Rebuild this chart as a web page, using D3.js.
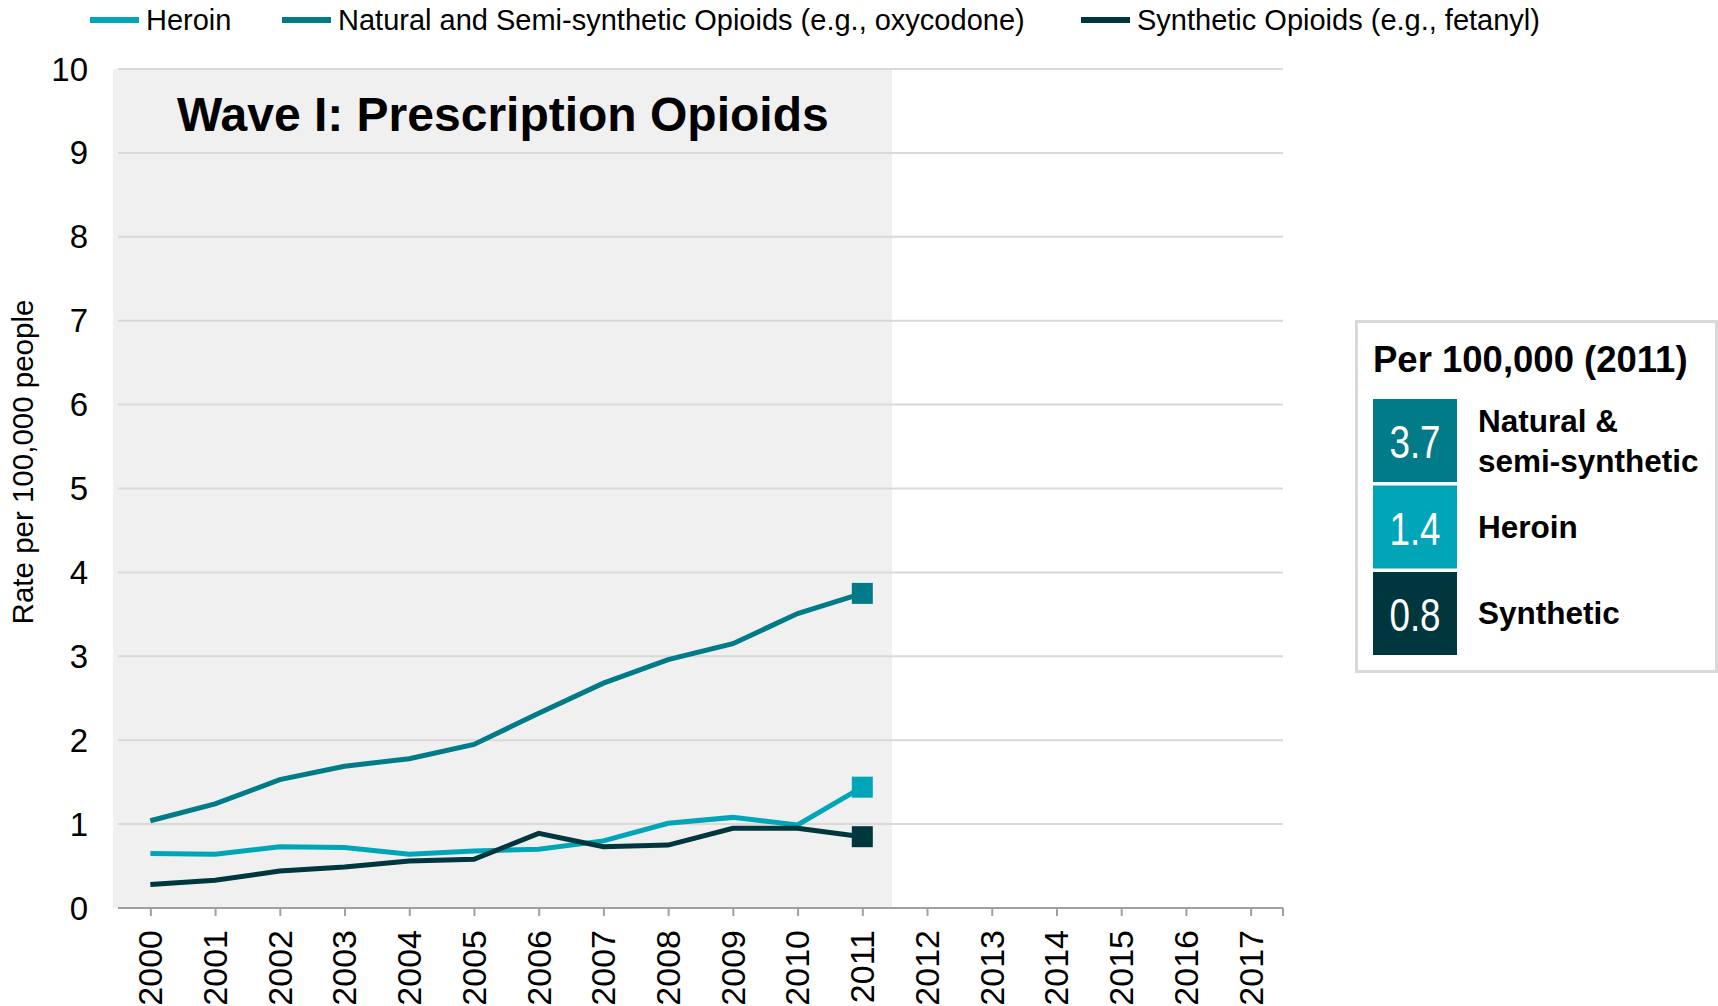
<!DOCTYPE html>
<html>
<head>
<meta charset="utf-8">
<script src="https://cdn.jsdelivr.net/npm/d3@7"></script>
<style>
  body { margin: 0; background: #fff; }
  svg { display: block; font-family: "Liberation Sans", Arial, sans-serif; }
  .grid line { stroke: #d9d9d9; stroke-width: 2; }
  .line { fill: none; stroke-width: 5; }
</style>
</head>
<body>
<svg class="chart" width="1718" height="1006"></svg>
<script>
// years on the axis and years with data
let years = d3.range(2000, 2018);
let dataYears = d3.range(2000, 2012);

let heroin    = [0.65, 0.64, 0.73, 0.72, 0.64, 0.68, 0.70, 0.80, 1.01, 1.08, 0.99, 1.44];
let natural   = [1.04, 1.24, 1.53, 1.69, 1.78, 1.95, 2.32, 2.68, 2.96, 3.15, 3.51, 3.75];
let synthetic = [0.28, 0.33, 0.44, 0.49, 0.56, 0.58, 0.89, 0.73, 0.75, 0.95, 0.95, 0.85];

let yTicks = d3.range(0, 11);

let seriesNames = ["Heroin", "Natural and Semi-synthetic Opioids (e.g., oxycodone)", "Synthetic Opioids (e.g., fetanyl)"];
let colors = ["#00a6b8", "#007b87", "#00363d"];

// summary box (2011)
let boxValues = ["3.7", "1.4", "0.8"];
let boxLabels = [["Natural &", "semi-synthetic"], ["Heroin"], ["Synthetic"]];
let boxColors = ["#007b87", "#00a6b8", "#00363d"];

let series = [
  {name: seriesNames[0], values: heroin, color: colors[0]},
  {name: seriesNames[1], values: natural, color: colors[1]},
  {name: seriesNames[2], values: synthetic, color: colors[2]}
];

let svg = d3.select(".chart");

let plot = {left: 118, right: 1283, top: 69, bottom: 908};

let xScale = d3.scalePoint()
    .domain(years)
    .range([plot.left, plot.right])
    .padding(0.5);
let yScale = d3.scaleLinear()
    .domain([0, 10])
    .range([plot.bottom, plot.top]);

// Wave I shading
let shadeEnd = xScale(2011) + xScale.step() * 0.46;
svg.append("rect")
    .attr("x", plot.left - 5)
    .attr("y", yScale(10))
    .attr("width", shadeEnd - plot.left + 5)
    .attr("height", yScale(0) - yScale(10))
    .attr("fill", "#f0f0f0");

svg.append("g")
    .attr("class", "grid")
  .selectAll("line")
    .data(yTicks.filter(d => d > 0))
  .enter().append("line")
    .attr("x1", plot.left)
    .attr("x2", plot.right)
    .attr("y1", d => yScale(d))
    .attr("y2", d => yScale(d));

// y labels
svg.append("g")
  .selectAll("text")
    .data(yTicks)
  .enter().append("text")
    .attr("x", 88)
    .attr("y", d => yScale(d))
    .attr("dy", "0.35em")
    .attr("text-anchor", "end")
    .style("font-size", "33px")
    .text(d => d);

svg.append("text")
    .attr("transform", "translate(23," + 462 + ") rotate(-90)")
    .attr("dy", "0.35em")
    .attr("text-anchor", "middle")
    .style("font-size", "29.5px")
    .text("Rate per 100,000 people");

// x axis
let xAxis = svg.append("g")
    .attr("transform", "translate(0," + plot.bottom + ")")
    .call(d3.axisBottom(xScale).tickSize(8).tickFormat(""));
xAxis.select(".domain").remove();
xAxis.append("line")
    .attr("x1", plot.left).attr("x2", plot.right)
    .attr("stroke", "#a0a0a0").attr("stroke-width", 2);
xAxis.append("line")
    .attr("x1", plot.right).attr("x2", plot.right)
    .attr("y1", 0).attr("y2", 8)
    .attr("stroke", "#a0a0a0").attr("stroke-width", 2);
xAxis.selectAll(".tick line").attr("stroke", "#a0a0a0").attr("stroke-width", 2);

svg.append("g")
  .selectAll("text")
    .data(years)
  .enter().append("text")
    .attr("transform", d => "translate(" + xScale(d) + ",930) rotate(-90)")
    .attr("dy", "0.35em")
    .attr("text-anchor", "end")
    .style("font-size", "34px")
    .text(d => d);

svg.append("text")
    .attr("x", 177)
    .attr("y", 131)
    .style("font-size", "48px")
    .style("font-weight", "bold")
    .text("Wave I: Prescription Opioids");

let line = d3.line()
    .x((d, i) => xScale(dataYears[i]))
    .y(d => yScale(d));

[series[1], series[0], series[2]].forEach(s => {
  svg.append("path")
      .datum(s.values)
      .attr("class", "line")
      .attr("stroke", s.color)
      .attr("d", line);
  let last = s.values.length - 1;
  svg.append("rect")
      .attr("x", xScale(dataYears[last]) - 10.5)
      .attr("y", yScale(s.values[last]) - 10.5)
      .attr("width", 21)
      .attr("height", 21)
      .attr("fill", s.color);
});

// top legend
let legendX = [90, 282, 1081];
let legend = svg.append("g")
  .selectAll("g")
    .data(series)
  .enter().append("g")
    .attr("transform", (d, i) => "translate(" + legendX[i] + ",20)");
legend.append("line")
    .attr("x1", 0).attr("x2", 49)
    .attr("stroke", d => d.color)
    .attr("stroke-width", 6);
legend.append("text")
    .attr("x", 56)
    .attr("dy", "0.35em")
    .style("font-size", "29px")
    .text(d => d.name);

// summary box
let box = svg.append("g");
box.append("rect")
    .attr("x", 1356.5).attr("y", 321.5)
    .attr("width", 360).attr("height", 350)
    .attr("fill", "#fff")
    .attr("stroke", "#d9d9d9")
    .attr("stroke-width", 3);
box.append("text")
    .attr("x", 1373).attr("y", 372)
    .style("font-size", "36.5px")
    .style("font-weight", "bold")
    .text("Per 100,000 (2011)");

let rows = box.selectAll(".row")
    .data(boxValues)
  .enter().append("g")
    .attr("class", "row")
    .attr("transform", (d, i) => "translate(1373," + (399 + i * 86.5) + ")");
rows.append("rect")
    .attr("width", 84).attr("height", 83)
    .attr("fill", (d, i) => boxColors[i]);
// condensed look: squeeze the digits horizontally
rows.append("text")
    .attr("transform", "translate(42,59) scale(0.8,1)")
    .attr("text-anchor", "middle")
    .attr("fill", "#fff")
    .style("font-size", "46px")
    .text(d => d);
rows.append("text")
    .attr("x", 105)
    .attr("y", (d, i) => boxLabels[i].length > 1 ? 33 : 52)
    .style("font-size", "31.5px")
    .style("font-weight", "bold")
  .selectAll("tspan")
    .data((d, i) => boxLabels[i])
  .enter().append("tspan")
    .attr("x", 105)
    .attr("dy", (d, j) => j ? 40 : 0)
    .text(d => d);
</script>
</body>
</html>
